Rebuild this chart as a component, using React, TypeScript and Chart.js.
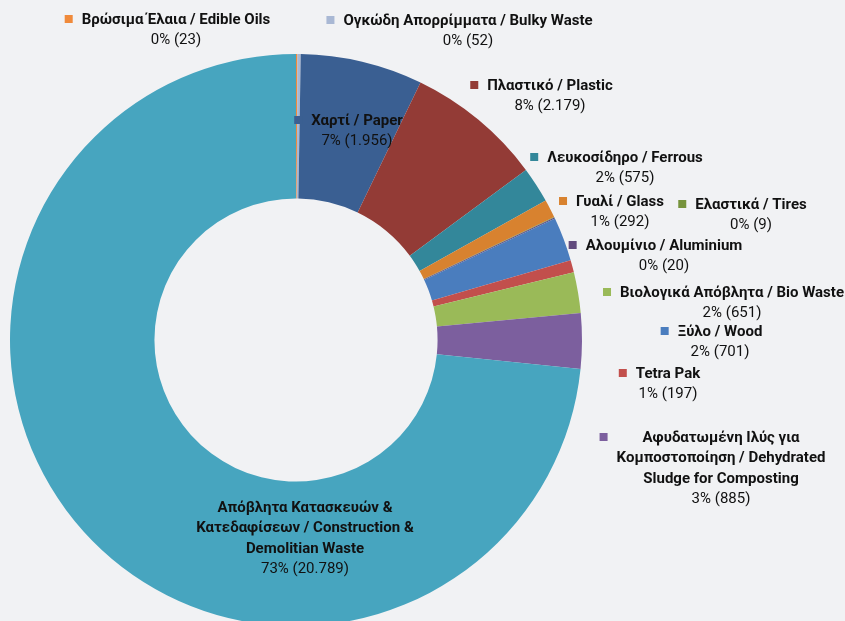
import { useEffect, useRef } from "react";
import { Chart, registerables } from "chart.js";

Chart.register(...registerables);

const categories = [
  "Βρώσιμα Έλαια / Edible Oils",
  "Ογκώδη Απορρίμματα / Bulky Waste",
  "Χαρτί / Paper",
  "Πλαστικό / Plastic",
  "Λευκοσίδηρο / Ferrous",
  "Γυαλί / Glass",
  "Ελαστικά / Tires",
  "Αλουμίνιο / Aluminium",
  "Ξύλο / Wood",
  "Tetra Pak",
  "Βιολογικά Απόβλητα / Bio Waste",
  "Αφυδατωμένη Ιλύς για\nΚομποστοποίηση / Dehydrated\nSludge for Composting",
  "Απόβλητα Κατασκευών &\nΚατεδαφίσεων / Construction &\nDemolitian Waste",
];

const values = [23, 52, 1956, 2179, 575, 292, 9, 20, 701, 197, 651, 885, 20789];

const colors = [
  "#F08A3A",
  "#A9B8D4",
  "#3A5F92",
  "#933B36",
  "#33879A",
  "#D8822F",
  "#76933C",
  "#624B7E",
  "#4A7DBE",
  "#C24F4C",
  "#9ABA58",
  "#7C5F9E",
  "#47A5BF",
];

// label anchor (centre of text block, first line) as pixel offsets from the doughnut centre
const labelOffsets = [
  [-120, -320],
  [172, -319],
  [61, -219],
  [254, -254],
  [329, -182],
  [324, -138],
  [455, -135],
  [368, -94],
  [424, -8],
  [372, 34],
  [436, -47],
  [425, 98],
  [9, 168],
];
const showSwatch = [true, true, true, true, true, true, true, true, true, true, true, true, false];

const BG = "#F1F2F4";
const FONT = "Roboto, 'Noto Sans', sans-serif";

function fmtNum(n: number): string {
  return String(n).replace(/\B(?=(\d{3})+(?!\d))/g, ".");
}

const labelPlugin = {
  id: "outLabels",
  afterDatasetsDraw(chart: any) {
    const ctx = chart.ctx as CanvasRenderingContext2D;
    const meta = chart.getDatasetMeta(0);
    const arc0 = meta.data[0];
    if (!arc0) return;
    const cx = arc0.x;
    const cy = arc0.y;
    const total = values.reduce((a, b) => a + b, 0);
    const lh = 20.5;
    ctx.save();
    ctx.textAlign = "center";
    ctx.textBaseline = "middle";
    categories.forEach((cat, i) => {
      const [dx, dy] = labelOffsets[i];
      const x = cx + dx;
      const y = cy + dy;
      const lines = cat.split("\n");
      ctx.font = `bold 15px ${FONT}`;
      let maxW = 0;
      lines.forEach((ln) => {
        maxW = Math.max(maxW, ctx.measureText(ln).width);
      });
      ctx.fillStyle = "#111111";
      lines.forEach((ln, k) => ctx.fillText(ln, x, y + k * lh));
      ctx.font = `15px ${FONT}`;
      const pct = Math.round((values[i] / total) * 100);
      ctx.fillText(`${pct}% (${fmtNum(values[i])})`, x, y + lines.length * lh);
      if (showSwatch[i]) {
        ctx.fillStyle = colors[i];
        ctx.fillRect(x - maxW / 2 - 9 - 8, y - 5, 8, 8);
      }
    });
    ctx.restore();
  },
};

export default function App() {
  const ref = useRef<HTMLCanvasElement | null>(null);
  useEffect(() => {
    document.body.style.margin = "0";
    document.body.style.background = BG;
    if (!ref.current) return;
    const chart = new Chart(ref.current, {
      type: "doughnut",
      data: {
        labels: categories,
        datasets: [
          {
            data: values,
            backgroundColor: colors,
            borderWidth: 0,
          },
        ],
      },
      options: {
        animation: false,
        responsive: true,
        maintainAspectRatio: false,
        cutout: "49.5%",
        layout: { padding: { left: 10, right: 263, top: 54, bottom: 24 } },
        plugins: {
          legend: { display: false },
          tooltip: { enabled: false },
        },
      },
      plugins: [labelPlugin],
    });
    return () => chart.destroy();
  }, []);
  return (
    <div style={{ width: 845, height: 621, overflow: "hidden", background: BG }}>
      <div style={{ position: "relative", width: 845, height: 650 }}>
        <canvas ref={ref} />
      </div>
    </div>
  );
}
